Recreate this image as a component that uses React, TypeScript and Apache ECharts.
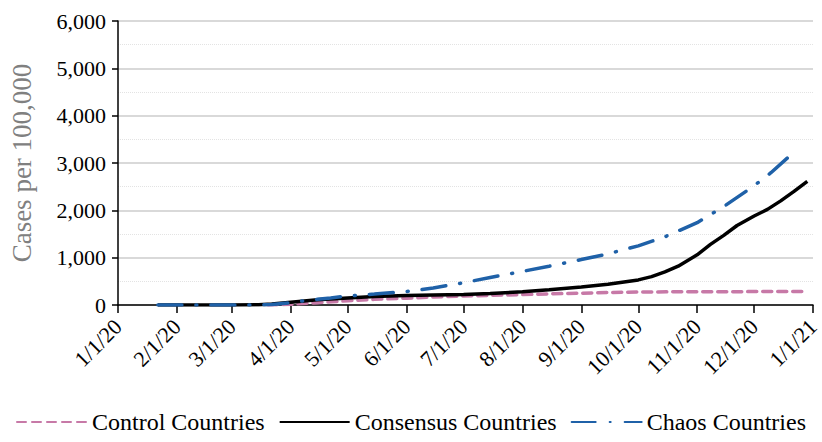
import React, { useEffect, useRef } from "react";
import * as echarts from "echarts";

const seriesNames = ["Control Countries", "Consensus Countries", "Chaos Countries"];

const controlDates = ["2020-03-20", "2020-04-01", "2020-04-15", "2020-05-01", "2020-05-15", "2020-06-01", "2020-06-15", "2020-07-01", "2020-07-15", "2020-08-01", "2020-08-15", "2020-09-01", "2020-09-15", "2020-10-01", "2020-11-01", "2020-12-01", "2020-12-29"];
const controlValues = [0, 15, 50, 90, 120, 145, 170, 190, 205, 220, 235, 250, 265, 275, 280, 283, 285];

const consensusDates = ["2020-01-22", "2020-03-01", "2020-03-15", "2020-03-22", "2020-04-01", "2020-04-15", "2020-05-01", "2020-05-15", "2020-06-01", "2020-06-15", "2020-07-01", "2020-07-15", "2020-08-01", "2020-08-15", "2020-09-01", "2020-09-15", "2020-10-01", "2020-10-08", "2020-10-15", "2020-10-22", "2020-11-01", "2020-11-08", "2020-11-15", "2020-11-22", "2020-12-01", "2020-12-08", "2020-12-15", "2020-12-22", "2020-12-29"];
const consensusValues = [0, 0, 5, 20, 60, 110, 150, 180, 200, 210, 220, 245, 280, 320, 380, 440, 530, 600, 700, 820, 1060, 1280, 1470, 1680, 1880, 2020, 2200, 2400, 2610];

const chaosDates = ["2020-01-22", "2020-03-01", "2020-03-15", "2020-03-22", "2020-04-01", "2020-04-08", "2020-04-15", "2020-04-22", "2020-05-01", "2020-05-15", "2020-06-01", "2020-06-15", "2020-07-01", "2020-07-15", "2020-08-01", "2020-08-15", "2020-09-01", "2020-09-15", "2020-10-01", "2020-10-15", "2020-11-01", "2020-11-15", "2020-12-01", "2020-12-10", "2020-12-22"];
const chaosValues = [0, 0, 2, 10, 50, 90, 120, 150, 190, 230, 285, 360, 470, 580, 710, 820, 960, 1080, 1250, 1440, 1740, 2080, 2520, 2800, 3230];

const yTicks = [0, 1000, 2000, 3000, 4000, 5000, 6000];

const pair = (d: string[], v: number[]) => d.map((x, i) => [x, v[i]]);

export default function App() {
  const ref = useRef<HTMLDivElement>(null);
  useEffect(() => {
    document.body.style.margin = "0";
    const chart = echarts.init(ref.current!, null, { renderer: "svg" });
    const font = "Liberation Serif";
    chart.setOption({
      animation: false,
      grid: { left: 118, right: 9, top: 21, bottom: 137, containLabel: false, outerBoundsMode: "none" },
      legend: {
        bottom: 3,
        left: "center",
        itemWidth: 70,
        itemHeight: 4,
        itemGap: 14,
        itemStyle: { opacity: 0 },
        textStyle: { fontFamily: font, fontSize: 24, color: "#000" },
        data: seriesNames,
      },
      xAxis: {
        type: "time",
        min: "2020-01-01",
        max: "2021-01-01",
        splitNumber: 12,
        minInterval: 28 * 864e5,
        axisLine: { show: true, lineStyle: { color: "#000", width: 1.5 } },
        axisTick: { show: true, length: 8, lineStyle: { color: "#000", width: 1.5 } },
        splitLine: { show: false },
        axisLabel: {
          rotate: 45,
          margin: 18,
          fontFamily: font,
          fontSize: 22,
          color: "#000",
          showMinLabel: true,
          showMaxLabel: true,
          hideOverlap: false,
          formatter: (val: number) => {
            const d = new Date(val);
            return `${d.getMonth() + 1}/${d.getDate()}/${String(d.getFullYear()).slice(2)}`;
          },
        },
      },
      yAxis: {
        type: "value",
        min: yTicks[0],
        max: yTicks[yTicks.length - 1],
        interval: 1000,
        name: "Cases per 100,000",
        nameLocation: "middle",
        nameGap: 83,
        nameTextStyle: { fontFamily: font, fontSize: 27, color: "#808080" },
        axisLine: { show: true, lineStyle: { color: "#000", width: 1.5 } },
        axisTick: { show: true, length: 6, lineStyle: { color: "#000", width: 1.5 } },
        axisLabel: {
          fontFamily: font,
          fontSize: 22,
          color: "#000",
          margin: 12,
          formatter: (v: number) => v.toLocaleString("en-US"),
        },
        splitLine: { show: true, lineStyle: { color: "#d9d9d9", width: 2 } },
        minorTick: { show: false, splitNumber: 2 },
        minorSplitLine: { show: true, lineStyle: { color: "#e3e3e3", width: 1, type: "dotted" } },
      },
      series: [
        {
          name: seriesNames[0],
          type: "line",
          symbol: "none",
          data: pair(controlDates, controlValues),
          itemStyle: { color: "#c779a7" },
          lineStyle: { color: "#c779a7", width: 3.5, type: [9, 6], cap: "round" },
          z: 2,
        },
        {
          name: seriesNames[1],
          type: "line",
          symbol: "none",
          data: pair(consensusDates, consensusValues),
          itemStyle: { color: "#000" },
          lineStyle: { color: "#000", width: 3.5 },
          z: 3,
        },
        {
          name: seriesNames[2],
          type: "line",
          symbol: "none",
          data: pair(chaosDates, chaosValues),
          itemStyle: { color: "#1f61a8" },
          lineStyle: { color: "#1f61a8", width: 3.5, type: [24, 14, 1, 14], cap: "round" },
          z: 4,
        },
      ],
    });
    return () => chart.dispose();
  }, []);
  return <div ref={ref} style={{ width: 822, height: 442, position: "absolute", left: 0, top: 0 }} />;
}
